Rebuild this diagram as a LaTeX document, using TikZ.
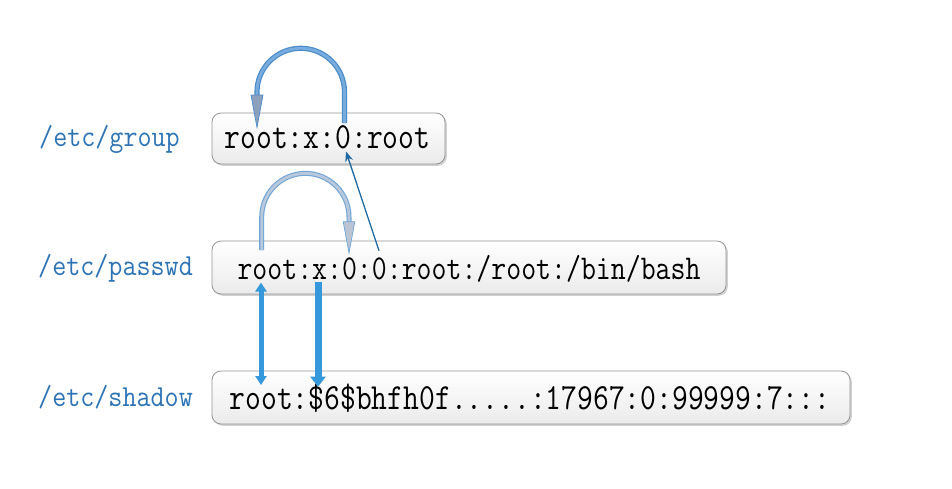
\documentclass[tikz,border=0pt]{standalone}
\usetikzlibrary{arrows.meta,shadows}
\definecolor{lblblue}{RGB}{46,116,181}
\definecolor{vblue}{RGB}{52,152,219}
\definecolor{thinblue}{RGB}{31,105,160}
\definecolor{loopAout}{RGB}{74,140,200}
\definecolor{loopAin}{RGB}{120,172,222}
\definecolor{headA}{RGB}{140,160,188}
\definecolor{loopBout}{RGB}{110,165,215}
\definecolor{loopBin}{RGB}{186,200,220}
\definecolor{headB}{RGB}{186,196,212}
\tikzset{
  filebox/.style={draw=black!42, line width=0.8pt, rounded corners=9pt,
    top color=white, bottom color=black!8, inner sep=0pt,
    drop shadow={shadow xshift=1.8pt, shadow yshift=-1.8pt, opacity=0.3, fill=black!60}},
  ftext/.style={inner sep=0pt, anchor=base, font=\ttfamily},
  lbl/.style={inner sep=0pt, anchor=base west, text=lblblue, font=\ttfamily\fontsize{27.3}{30}\selectfont},
  loopA/.style={draw=loopAout, line width=1.2pt, double=loopAin, double distance=2.8pt},
  loopB/.style={draw=loopBout, line width=1.1pt, double=loopBin, double distance=2.8pt},
  thinarrow/.style={draw=thinblue, line width=1.3pt, -{Stealth[length=10pt,width=8pt]}},
}
\begin{document}
\begin{tikzpicture}[x=1pt,y=-1pt]
\useasboundingbox (0,0) rectangle (952,488);
% boxes
\node[filebox, minimum width=233pt, minimum height=51pt] (grp) at (328.5,138.5) {};
\node[filebox, minimum width=514pt, minimum height=53pt] (pwd) at (469,267.5) {};
\node[filebox, minimum width=638pt, minimum height=53pt] (shd) at (531,397.5) {};
% texts
\node[ftext] (grpt) at (327.5,148.3) {\fontsize{30.7}{34}\selectfont\scalebox{1}[1.2]{root:x:0:root}};
\node[ftext] (pwdt) at (469,279.4) {\fontsize{29}{34}\selectfont\scalebox{1}[1.2]{root:x:0:0:root:/root:/bin/bash}};
\node[ftext] (shdt) at (530,409) {\fontsize{30.7}{34}\selectfont\scalebox{1}[1.2]{root:\$6\$bhfh0f.....:17967:0:99999:7:::}};
% labels
\node[lbl] (lg) at (39,146.7) {\scalebox{1}[1.12]{/etc/group}};
\node[lbl] (lp) at (38,275.7) {\scalebox{1}[1.12]{/etc/passwd}};
\node[lbl] (ls) at (38,406) {\scalebox{1}[1.12]{/etc/shadow}};
% loop on group
\coordinate (g0) at (344.5,123);
\coordinate (gtop) at (344.5,92);
\coordinate (gbase) at (257,95);
\draw[loopA] (g0) -- (gtop) arc[start angle=0, end angle=-180, radius=43.75] -- (gbase);
\filldraw[fill=headA, draw=loopAout, line width=0.7pt] (251,95) -- (263,95) -- (257,127.5) -- cycle;
% loop on passwd
\coordinate (p1) at (261.7,250);
\coordinate (ptop) at (261.7,217);
\coordinate (pbase) at (349,222);
\draw[loopB] (p1) -- (ptop) arc[start angle=180, end angle=360, radius=43.65] -- (pbase);
\filldraw[fill=headB, draw=loopBout, line width=0.7pt] (343.2,221.7) -- (354.8,221.7) -- (349,253) -- cycle;
% thin arrow passwd gid -> group gid
\coordinate (pgid) at (379,250.7);
\coordinate (ggid) at (346,151.5);
\draw[thinarrow] (pgid) -- (ggid);
% vertical arrows passwd <-> shadow
\coordinate (a1) at (261,282.5);
\coordinate (a2) at (261,385);
\coordinate (b1) at (318,281.7);
\coordinate (b2) at (318,386.7);
\draw[draw=vblue, line width=5pt, {Triangle[length=9pt,width=11pt,fill=vblue]}-{Triangle[length=9pt,width=11pt,fill=vblue]}] (a1) -- (a2);
\draw[draw=vblue, line width=7pt, -{Triangle[length=10pt,width=15pt,fill=vblue]}] (b1) -- (b2);
\end{tikzpicture}
\end{document}
